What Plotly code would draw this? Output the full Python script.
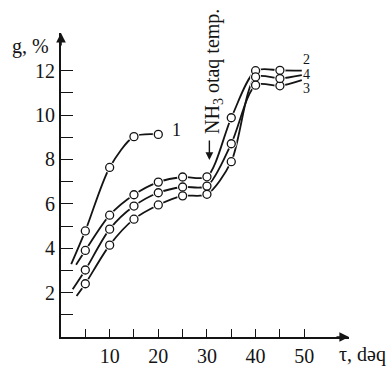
import plotly.graph_objects as go

# Measured points: time (min) and mass gain g (%)
tau_1 = [5, 10, 15, 20]
g_1 = [4.78, 7.64, 9.03, 9.13]

tau_234 = [5, 10, 15, 20, 25, 30, 35, 40, 45]
g_2 = [3.90, 5.49, 6.41, 6.98, 7.21, 7.22, 9.88, 12.00, 12.02]
g_3 = [3.02, 4.86, 5.90, 6.50, 6.76, 6.80, 8.71, 11.35, 11.32]
g_4 = [2.40, 4.14, 5.31, 5.95, 6.36, 6.43, 7.90, 11.72, 11.65]

# Where each drawn curve begins and ends beyond the measured points
start_1 = (2.1, 3.28)
start_2 = (3.1, 3.26)
start_3 = (2.4, 2.15)
start_4 = (3.2, 1.85)
end_2 = (49.5, 12.00)
end_3 = (49.5, 11.58)
end_4 = (49.5, 11.80)

curve_labels = ["1", "2", "3", "4"]
label_pos = {"1": (23.8, 9.31), "2": (50.4, 12.5), "4": (50.4, 11.84), "3": (50.4, 11.18)}

x_ticks = [5, 10, 15, 20, 25, 30, 35, 40, 45, 50]
x_tick_text = ["", "10", "", "20", "", "30", "", "40", "", "50"]
y_ticks = list(range(1, 13))
y_tick_text = ["" if v % 2 else str(v) for v in y_ticks]

FONT = "Liberation Serif, Times New Roman, serif"
INK = "#141414"

W, H = 390, 379
ML, MR, MT, MB = 61, 41, 33, 34
pw, ph = W - ML - MR, H - MT - MB

curves = [
    ([start_1[0]] + tau_1, [start_1[1]] + g_1, tau_1, g_1),
    ([start_2[0]] + tau_234 + [end_2[0]], [start_2[1]] + g_2 + [end_2[1]], tau_234, g_2),
    ([start_3[0]] + tau_234 + [end_3[0]], [start_3[1]] + g_3 + [end_3[1]], tau_234, g_3),
    ([start_4[0]] + tau_234 + [end_4[0]], [start_4[1]] + g_4 + [end_4[1]], tau_234, g_4),
]

fig = go.Figure()

for lx, ly, _, _ in curves:
    fig.add_trace(go.Scatter(x=lx, y=ly, mode="lines",
                             line=dict(color=INK, width=1.8, shape="spline", smoothing=0.8),
                             hoverinfo="skip", showlegend=False))

# white halo so the curve stops just short of each circle
for _, _, mx, my in curves:
    fig.add_trace(go.Scatter(x=mx, y=my, mode="markers",
                             marker=dict(size=11, color="white", line=dict(width=0)),
                             hoverinfo="skip", showlegend=False))

for _, _, mx, my in curves:
    fig.add_trace(go.Scatter(x=mx, y=my, mode="markers",
                             marker=dict(size=8, color="white", line=dict(width=1.3, color=INK)),
                             showlegend=False))

annotations = []
for name in curve_labels:
    x, y = label_pos[name]
    annotations.append(dict(x=x, y=y, text=name, showarrow=False, xanchor="center",
                            yanchor="middle",
                            font=dict(family=FONT, size=18 if name == "1" else 14, color=INK)))

# rotated note, with an arrow pointing down at tau = 30
annotations.append(dict(x=31.3, y=9.05, text="NH<sub>3</sub> otaq temp.", textangle=-90,
                        showarrow=False, xanchor="center", yanchor="bottom",
                        font=dict(family=FONT, size=20, color=INK)))
annotations.append(dict(x=30.5, y=7.98, ax=0, ay=-21, text="", showarrow=True,
                        arrowhead=2, arrowsize=1.1, arrowwidth=1.4, arrowcolor=INK))

# axis arrowheads
annotations.append(dict(x=59.2, y=0, ax=-14, ay=0, xref="x", yref="y", text="",
                        showarrow=True, arrowhead=2, arrowsize=1.2, arrowwidth=1.6, arrowcolor=INK))
annotations.append(dict(x=0, y=13.7, ax=0, ay=14, xref="x", yref="y", text="",
                        showarrow=True, arrowhead=2, arrowsize=1.2, arrowwidth=1.6, arrowcolor=INK))

# axis titles, placed in pixel terms
annotations.append(dict(xref="paper", yref="paper", x=(30 - ML) / pw, y=(H - 47 - MB) / ph,
                        xanchor="center", yanchor="middle", text="g, %", showarrow=False,
                        font=dict(family=FONT, size=20, color=INK)))
annotations.append(dict(xref="paper", yref="paper", x=(362 - ML) / pw, y=(H - 363 - MB) / ph,
                        xanchor="center", yanchor="middle", text="τ, dəq", showarrow=False,
                        font=dict(family=FONT, size=20, color=INK)))

fig.update_layout(
    width=W, height=H,
    margin=dict(l=ML, r=MR, t=MT, b=MB, pad=0),
    paper_bgcolor="white", plot_bgcolor="white",
    annotations=annotations,
    xaxis=dict(range=[0, 59.2], showgrid=False, zeroline=False, showline=True,
               linecolor=INK, linewidth=1.8, ticks="inside", ticklen=8, tickwidth=1.4,
               tickcolor=INK, tickvals=x_ticks, ticktext=x_tick_text,
               tickfont=dict(family=FONT, size=20, color=INK)),
    yaxis=dict(range=[0, 13.7], showgrid=False, zeroline=False, showline=True,
               linecolor=INK, linewidth=1.8, ticks="inside", ticklen=12, tickwidth=1.4,
               tickcolor=INK, tickvals=y_ticks, ticktext=y_tick_text,
               tickfont=dict(family=FONT, size=20, color=INK)),
)

fig.write_html("out.html")
